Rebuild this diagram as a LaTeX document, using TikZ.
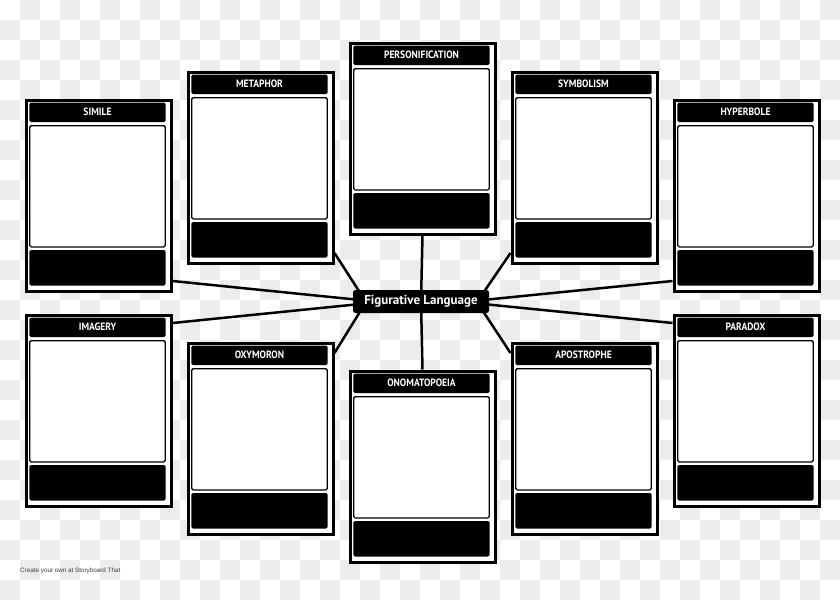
\documentclass[tikz,border=0pt]{standalone}
\usepackage{fontspec}
\newfontfamily\lblfont{PT Sans}[FakeStretch=0.9]
\newfontfamily\hubfont{PT Sans}
\newfontfamily\markfont{Liberation Sans}
\usetikzlibrary{calc}
\pgfdeclarelayer{bgzero}
\pgfdeclarelayer{bgone}
\pgfsetlayers{bgzero,bgone,main}
\definecolor{checkgray}{RGB}{236,236,236}
\definecolor{creditgray}{RGB}{60,60,60}
\tikzset{
  cardbox/.style={draw=black, line width=3pt, fill=white, minimum width=145pt,
    minimum height=191pt, inner sep=0pt, anchor=north west},
  titlebar/.style={fill=black, rounded corners=1.5pt, minimum width=136.4pt,
    minimum height=19.5pt, inner sep=0pt, text=white,
    font=\lblfont\bfseries\fontsize{10.6}{12}\selectfont},
  imgbox/.style={draw=black, line width=1.3pt, fill=white, rounded corners=1.5pt,
    minimum width=135.6pt, minimum height=121.2pt, inner sep=0pt},
  bottombar/.style={fill=black, rounded corners=1.5pt, minimum width=136.4pt,
    minimum height=35.5pt, inner sep=0pt},
  hub/.style={fill=black, rounded corners=2.5pt, minimum width=136pt,
    minimum height=23pt, inner sep=0pt, text=white,
    font=\hubfont\bfseries\fontsize{13}{15}\selectfont},
  conn/.style={draw=black, line width=2.5pt}
}
\newcommand\mycard[4]{%
  \node[cardbox] (#1) at (#2,#3) {};
  \node[titlebar] (#1-title) at (#2+73,#3+13.75) {#4};
  \node[imgbox] (#1-img) at (#2+73,#3+87.8) {};
  \node[bottombar] (#1-bar) at (#2+73,#3+169.25) {};
}
\begin{document}
\begin{tikzpicture}[x=1pt,y=-1pt]
\useasboundingbox (0,0) rectangle (840,600);
\begin{pgfonlayer}{bgzero}
  \fill[white] (0,0) rectangle (840,600);
  \foreach \i in {0,...,41} {
    \foreach \j in {0,...,29} {
      \pgfmathtruncatemacro\k{mod(\i+\j,2)}
      \ifnum\k=1 \fill[checkgray] (\i*20,\j*20) rectangle ++(20,20); \fi
    }
  }
\end{pgfonlayer}

% cards
\mycard{simile}{24.5}{98.5}{SIMILE}
\mycard{metaphor}{186.5}{70.5}{METAPHOR}
\mycard{personification}{348.5}{41.5}{PERSONIFICATION}
\mycard{symbolism}{510.5}{70.5}{SYMBOLISM}
\mycard{hyperbole}{672.5}{98.5}{HYPERBOLE}
\mycard{imagery}{24.5}{313.5}{IMAGERY}
\mycard{oxymoron}{186.5}{341.5}{OXYMORON}
\mycard{onomatopoeia}{348.5}{369.5}{ONOMATOPOEIA}
\mycard{apostrophe}{510.5}{341.5}{APOSTROPHE}
\mycard{paradox}{672.5}{313.5}{PARADOX}

% centre
\node[hub] (fig) at (421,301.5) {Figurative Language};
\coordinate (hubL) at (380,302);
\coordinate (hubR) at (463,302);
\coordinate (hubTL) at (366,302);
\coordinate (hubTR) at (477,302);

\begin{pgfonlayer}{bgone}
  \draw[conn] ($(simile.south east)+(0,-11.5)$) -- (hubL);
  \draw[conn] ($(imagery.north east)+(0,9.5)$) -- (hubL);
  \draw[conn] ($(hyperbole.south west)+(0,-11.5)$) -- (hubR);
  \draw[conn] ($(paradox.north west)+(0,9.5)$) -- (hubR);
  \draw[conn] ($(metaphor.south east)+(0,-11.5)$) -- (hubTL);
  \draw[conn] ($(oxymoron.north east)+(0,11.5)$) -- (hubTL);
  \draw[conn] ($(symbolism.south west)+(0,-11.5)$) -- (hubTR);
  \draw[conn] ($(apostrophe.north west)+(0,11.5)$) -- (hubTR);
  \draw[conn] (personification.south) -- (fig.center);
  \draw[conn] (onomatopoeia.north) -- (fig.center);
\end{pgfonlayer}

\node[anchor=base west, inner sep=0pt, text=creditgray,
  font=\markfont\fontsize{6.3}{7}\selectfont] (credit) at (20,572)
  {Create your own at Storyboard That};
\end{tikzpicture}
\end{document}
